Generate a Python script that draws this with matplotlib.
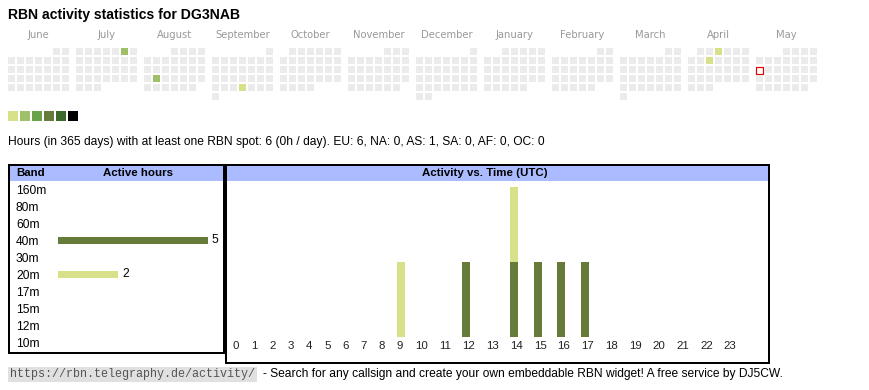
import calendar
import datetime as dt
import matplotlib
matplotlib.use('Agg')
import matplotlib.pyplot as plt
from matplotlib.patches import Rectangle

title = 'RBN activity statistics for DG3NAB'
month_names = ['June', 'July', 'August', 'September', 'October', 'November',
               'December', 'January', 'February', 'March', 'April', 'May']
start_year, start_month = 2024, 6
today = dt.date(2025, 5, 12)

active_days = [dt.date(2024, 7, 6), dt.date(2024, 8, 20), dt.date(2024, 9, 26),
               dt.date(2025, 4, 3), dt.date(2025, 4, 9)]
active_levels = [2, 2, 1, 1, 1]
level_colors = ['#d9e08a', '#9dc068', '#6aa347', '#667b3a', '#3b6a2a', '#000000']

summary = ('Hours (in 365 days) with at least one RBN spot: 6 (0h / day). '
           'EU: 6, NA: 0, AS: 1, SA: 0, AF: 0, OC: 0')

bands = ['160m', '80m', '60m', '40m', '30m', '20m', '17m', '15m', '12m', '10m']
band_hours = [0, 0, 0, 5, 0, 2, 0, 0, 0, 0]
band_colors = {'40m': '#667b3a', '20m': '#d9e08a'}

hours = list(range(24))
hours_40m = [0, 0, 0, 0, 0, 0, 0, 0, 0, 0, 0, 0, 1, 0, 1, 1, 1, 1, 0, 0, 0, 0, 0, 0]
hours_20m = [0, 0, 0, 0, 0, 0, 0, 0, 0, 1, 0, 0, 0, 0, 1, 0, 0, 0, 0, 0, 0, 0, 0, 0]

url = 'https://rbn.telegraphy.de/activity/'
footer = '- Search for any callsign and create your own embeddable RBN widget! A free service by DJ5CW.'

PX = 0.72  # points per pixel at 100 dpi
W, H = 870, 390
SANS = 'Liberation Sans'

fig = plt.figure(figsize=(W / 100, H / 100), dpi=100)
fig.patch.set_facecolor('white')

# base axes in pixel coordinates
ax = fig.add_axes([0, 0, 1, 1])
ax.set_xlim(0, W)
ax.set_ylim(H, 0)
ax.axis('off')

ax.text(8, 15, title, fontsize=14 * PX, fontweight='bold', family=SANS,
        va='center', ha='left')

# ---- calendar heat map ----
levels_by_day = dict(zip(active_days, active_levels))
for m, name in enumerate(month_names):
    yr = start_year + (start_month - 1 + m) // 12
    mo = (start_month - 1 + m) % 12 + 1
    first_wd, ndays = calendar.monthrange(yr, mo)
    x0 = 8 + 68 * m
    ax.text(x0 + 30.5, 35, name, fontsize=10 * PX, color='#999999',
            family='DejaVu Sans', ha='center', va='center')
    for d in range(1, ndays + 1):
        row, col = divmod(first_wd + d - 1, 7)
        day = dt.date(yr, mo, d)
        lvl = levels_by_day.get(day)
        face = level_colors[lvl - 1] if lvl else '#ebebeb'
        x, y = x0 + 9 * col, 48 + 9 * row
        if day == today:
            ax.add_patch(Rectangle((x + 0.5, y + 0.5), 7, 7, facecolor='white',
                                   edgecolor='#e00000', lw=1.2 * PX))
        else:
            ax.add_patch(Rectangle((x, y), 7, 7, facecolor=face, edgecolor='none'))

for i, c in enumerate(level_colors):
    ax.add_patch(Rectangle((8 + 12 * i, 111), 10, 10, facecolor=c, edgecolor='none'))

ax.text(8, 142, summary, fontsize=12 * PX, family=SANS, va='center', ha='left')

# ---- table frames ----
hdr_blue = '#aabbff'
ax.add_patch(Rectangle((10, 165.5), 213.3, 15.2, facecolor=hdr_blue, edgecolor='none'))
ax.add_patch(Rectangle((227.3, 165.5), 541.2, 15.2, facecolor=hdr_blue, edgecolor='none'))
ax.add_patch(Rectangle((9, 164.5), 215.3, 188.2, fill=False, edgecolor='black',
                       lw=2 * PX, joinstyle='miter'))
ax.add_patch(Rectangle((226.3, 164.5), 543.2, 198.2, fill=False, edgecolor='black',
                       lw=2 * PX, joinstyle='miter'))
ax.text(16, 173.2, 'Band', fontsize=11.5 * PX, fontweight='bold', family=SANS,
        va='center', ha='left')
ax.text(138, 173.2, 'Active hours', fontsize=11.5 * PX, fontweight='bold', family=SANS,
        va='center', ha='center')
ax.text(485, 173.2, 'Activity vs. Time (UTC)', fontsize=11.5 * PX, fontweight='bold',
        family=SANS, va='center', ha='center')

# ---- band bars ----
row_px = 16.97
b_top, b_bot = 189.3 - row_px / 2, 189.3 + 9.5 * row_px
axb = fig.add_axes([58 / W, (H - b_bot) / H, 160 / W, (b_bot - b_top) / H])
axb.patch.set_alpha(0)
axb.set_xlim(0, 160 / 30)
axb.set_ylim(9.5, -0.5)
axb.barh(range(len(bands)), band_hours, height=7 / row_px,
         color=[band_colors.get(b, '#667b3a') for b in bands])
for i, v in enumerate(band_hours):
    if v:
        axb.text(v + 4 / 30, i, str(v), fontsize=12 * PX, family=SANS, va='center')
axb.set_xticks([])
axb.set_yticks(range(len(bands)), bands)
axb.tick_params(axis='y', length=0, pad=42 * PX, labelsize=12 * PX)
for lab in axb.get_yticklabels():
    lab.set_ha('left')
    lab.set_family(SANS)
for s in axb.spines.values():
    s.set_visible(False)

# ---- activity vs time ----
lefts = []
x = 233.0
for h in hours:
    lefts.append(x)
    x += 18.2 if h < 10 else 23.75

axh = fig.add_axes([226 / W, (H - 337) / H, 544 / W, 150 / H])
axh.patch.set_alpha(0)
axh.set_xlim(226, 770)
axh.set_ylim(0, 2)
axh.bar(lefts, hours_40m, width=8, align='edge', color=band_colors['40m'])
axh.bar(lefts, hours_20m, width=8, align='edge', bottom=hours_40m,
        color=band_colors['20m'])
axh.set_yticks([])
axh.set_xticks(lefts, [str(h) for h in hours])
axh.tick_params(axis='x', length=0, pad=3, labelsize=11.5 * PX, labelcolor='#222222')
for lab in axh.get_xticklabels():
    lab.set_ha('left')
    lab.set_family(SANS)
for s in axh.spines.values():
    s.set_visible(False)

# ---- footer ----
ax.text(10, 374.5, url, fontsize=8.5, family='Liberation Mono', color='#555555',
        va='center', ha='left',
        bbox=dict(facecolor='#e0e0e0', edgecolor='none', pad=1.2))
ax.text(263, 374.5, footer, fontsize=12 * PX, family=SANS, va='center', ha='left')

fig.savefig('out.png', dpi=100)
